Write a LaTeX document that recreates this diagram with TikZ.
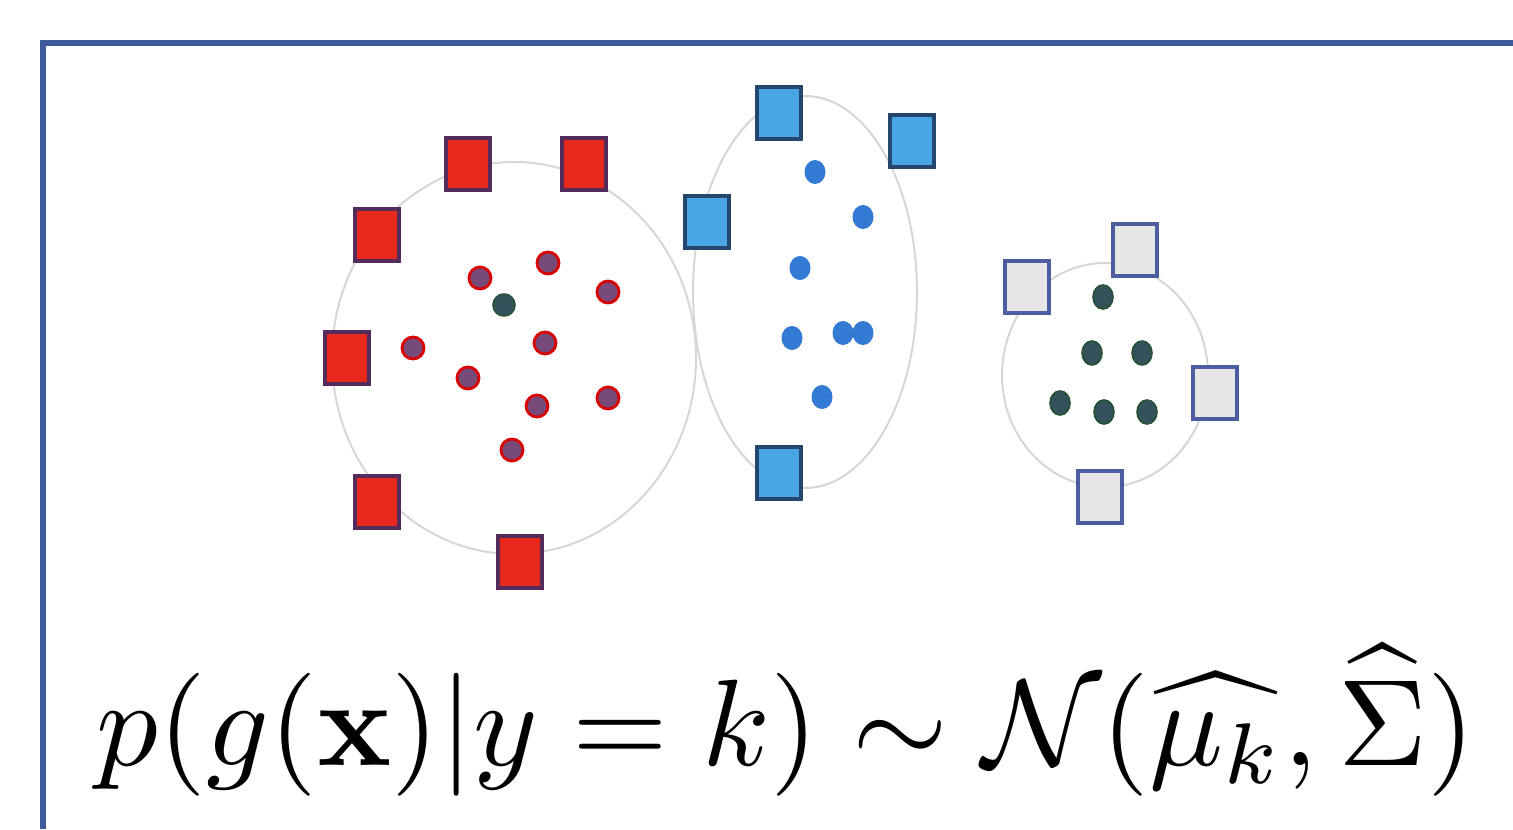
\documentclass[tikz,border=0pt]{standalone}
\usepackage{amsmath, amssymb}
\usepackage{tikz}
\usetikzlibrary{shapes.geometric}
\usepackage{xcolor}

\definecolor{framecol}{RGB}{61,90,155}
\definecolor{ringcol}{RGB}{214,214,214}
\definecolor{redfill}{RGB}{232,41,28}
\definecolor{redline}{RGB}{84,44,92}
\definecolor{reddot}{RGB}{120,74,122}
\definecolor{bluefill}{RGB}{72,166,228}
\definecolor{blueline}{RGB}{38,70,110}
\definecolor{bluedot}{RGB}{50,122,212}
\definecolor{greyfill}{RGB}{230,230,230}
\definecolor{greyline}{RGB}{78,92,160}
\definecolor{greendot}{RGB}{52,82,92}
\definecolor{greenline}{RGB}{40,80,50}

\begin{document}
\begin{tikzpicture}[ x=0.5pt, y=-0.5pt,
      ring/.style={ringcol, line width=1pt},
      box/.style={rectangle, line width=1.6pt, minimum width=22pt,
        minimum height=26pt, inner sep=0pt},
      redbox/.style={box, fill=redfill, draw=redline},
      bluebox/.style={box, fill=bluefill, draw=blueline},
      greybox/.style={box, fill=greyfill, draw=greyline},
      dot/.style={ellipse, inner sep=0pt},
      reddot/.style={dot, fill=reddot, draw=red!85!black, line width=1.4pt,
        minimum width=11pt, minimum height=11pt},
      bluedot/.style={dot, fill=bluedot, minimum width=10.5pt, minimum height=12pt},
      greendot/.style={dot, fill=greendot, draw=greenline, line width=0.8pt,
        minimum width=10pt, minimum height=12pt} ]

      \useasboundingbox (0,0) rectangle (1513,829);

      % Frame
      \draw[framecol, line width=2.8pt] (43,829) -- (43,43) -- (1513,43);

      % Cluster outlines
      \draw[ring] (514,358) ellipse[x radius=182, y radius=196];
      \draw[ring] (805,292) ellipse[x radius=112, y radius=196];
      \draw[ring] (1105,375) ellipse[x radius=103, y radius=112];

      % Red class
      \foreach \n/\x/\y in {1/480/278, 2/548/263, 3/608/292, 4/413/348,
        5/545/343, 6/468/378, 7/537/406, 8/608/398, 9/512/450}
        \node[reddot] (rd\n) at (\x,\y) {};
      \node[greendot, minimum width=11pt, minimum height=11pt] (rmean) at (504,305) {};
      \foreach \n/\x/\y in {1/468/164, 2/584/164, 3/377/235, 4/347/358,
        5/377/502, 6/520/562}
        \node[redbox] (rs\n) at (\x,\y) {};

      % Blue class
      \foreach \n/\x/\y in {1/815/172, 2/863/217, 3/800/268, 4/792/338,
        5/843/333, 6/863/333, 7/822/397}
        \node[bluedot] (bd\n) at (\x,\y) {};
      \foreach \n/\x/\y in {1/779/113, 2/912/141, 3/707/222, 4/779/473}
        \node[bluebox] (bs\n) at (\x,\y) {};

      % Grey class
      \foreach \n/\x/\y in {1/1103/297, 2/1092/353, 3/1142/353, 4/1060/403,
        5/1104/412, 6/1147/412}
        \node[greendot] (gd\n) at (\x,\y) {};
      \foreach \n/\x/\y in {1/1027/287, 2/1135/250, 3/1215/393, 4/1100/497}
        \node[greybox] (gs\n) at (\x,\y) {};

      % Class-conditional density
      \node[anchor=base west, inner sep=0pt, scale=6.15] (lik) at (94,765)
        {$p(g(\mathbf{x})|y=k)\sim\mathcal{N}(\widehat{\mu_k},\widehat{\Sigma})$};
    \end{tikzpicture}
\end{document}
